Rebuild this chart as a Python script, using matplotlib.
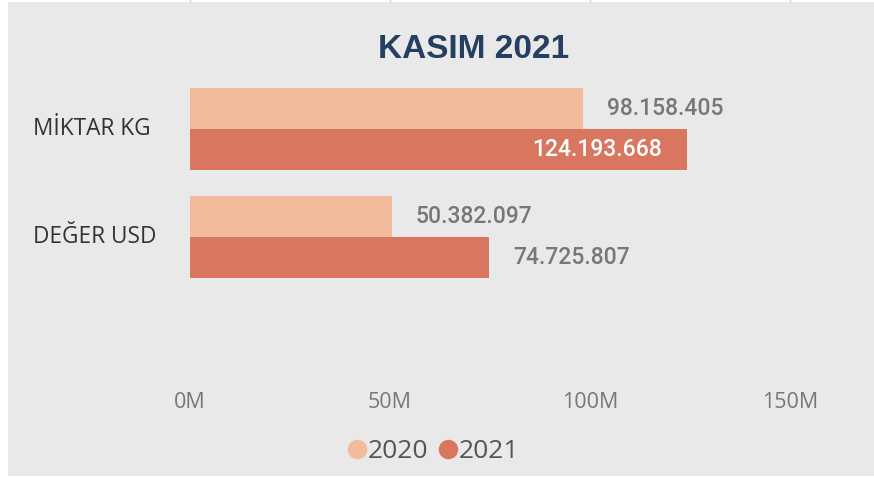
import matplotlib.pyplot as plt
from matplotlib.patches import Rectangle
from matplotlib.lines import Line2D

categories = ['MİKTAR KG', 'DEĞER USD']
years = ['2020', '2021']
values_2020 = [98158405, 50382097]
values_2021 = [124193668, 74725807]
label_2020 = ['98.158.405', '50.382.097']
label_2021 = ['124.193.668', '74.725.807']
xticks = [0, 50, 100, 150]
xtick_labels = ['0M', '50M', '100M', '150M']

c2020 = '#F2BB9C'
c2021 = '#D9765F'
bg = '#E9E9E9'
val_font = ['Roboto', 'DejaVu Sans']

fig = plt.figure(figsize=(8.74, 4.78), dpi=100)
fig.patch.set_facecolor('white')
fig.patches.append(Rectangle((8 / 874, 2 / 478), 866 / 874, 474 / 478,
                             transform=fig.transFigure, facecolor=bg,
                             edgecolor='none', zorder=-5))
# gridlines peeking out above the panel
for t in xticks:
    xf = (190 + 4 * t) / 874
    fig.add_artist(Line2D([xf, xf], [1 - 3 / 478, 1], transform=fig.transFigure,
                          color='#D8D8D8', lw=1, zorder=-4))

ax = fig.add_axes([190 / 874, 1 - 380 / 478, 600 / 874, 305 / 478])
ax.set_zorder(2)
ax.set_facecolor('none')
ax.set_xlim(0, 150)
ax.set_ylim(2.32, -0.5)

h = 0.38
ypos = list(range(len(categories)))
v20 = [v / 1e6 for v in values_2020]
v21 = [v / 1e6 for v in values_2021]
ax.barh([y - h / 2 for y in ypos], v20, height=h, color=c2020)
ax.barh([y + h / 2 for y in ypos], v21, height=h, color=c2021)

for i, y in enumerate(ypos):
    ax.text(v20[i] + 6, y - h / 2, label_2020[i], va='center', ha='left',
            fontsize=16.5, fontweight='medium', color='#777777',
            family=val_font, clip_on=False)
    if v21[i] > 110:
        ax.text(v21[i] - 6.2, y + h / 2, label_2021[i], va='center', ha='right',
                fontsize=16.5, fontweight='medium', color='white', family=val_font)
    else:
        ax.text(v21[i] + 6, y + h / 2, label_2021[i], va='center', ha='left',
                fontsize=16.5, fontweight='medium', color='#777777',
                family=val_font, clip_on=False)
    ax.text(-157 / 600, y, categories[i], transform=ax.get_yaxis_transform(),
            ha='left', va='center', fontsize=16.3, color='#333333',
            family=['Open Sans', 'DejaVu Sans'], clip_on=False)

ax.set_yticks([])
ax.set_xticks(xticks)
ax.set_xticklabels(xtick_labels, fontsize=15.5, color='#777777',
                   family=['Open Sans', 'DejaVu Sans'])
ax.tick_params(axis='x', length=0, pad=9)
for s in ax.spines.values():
    s.set_visible(False)

fig.text(474 / 874, 1 - 50 / 478, 'KASIM 2021', ha='center', va='center',
         fontsize=24, fontweight='bold', color='#243F60',
         family=['Liberation Sans Narrow', 'Liberation Sans', 'DejaVu Sans'])

handles = [Line2D([], [], marker='o', ls='none', markersize=13, color=c)
           for c in (c2020, c2021)]
fig.legend(handles, years, loc='center', bbox_to_anchor=(433 / 874, 1 - 452 / 478),
           ncol=2, frameon=False, handlelength=0.8, handletextpad=0.0,
           columnspacing=0.35,
           prop={'family': ['Open Sans', 'DejaVu Sans'], 'size': 19},
           labelcolor='#555555')

fig.savefig('out.png', dpi=100, facecolor='white')
